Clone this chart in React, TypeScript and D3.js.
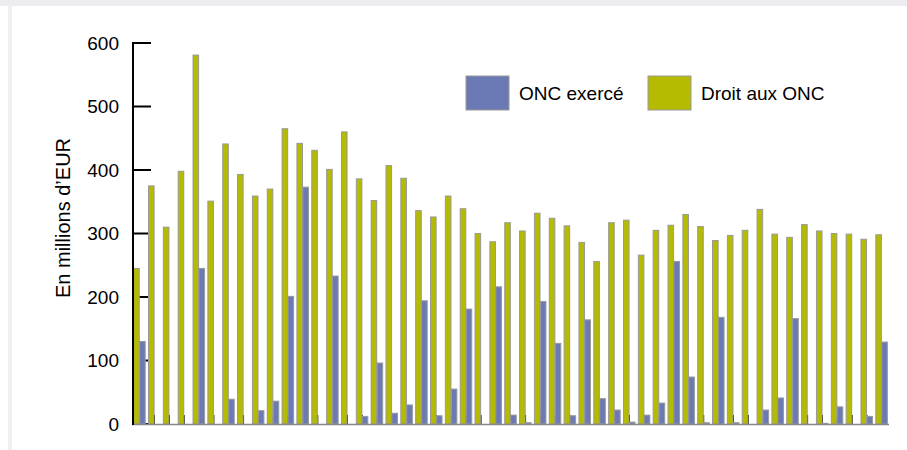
import React from "react";
import * as d3 from "d3";

const categories: string[] = Array.from({ length: 51 }, (_, i) => String(i + 1));
const droitValues: number[] = [245,375,310,398,581,351,441,393,359,370,465,442,431,401,460,386,352,407,387,336,326,359,339,300,287,317,304,332,324,312,286,256,317,321,266,305,313,330,311,289,297,305,338,299,294,314,304,300,299,291,298];
const exerceValues: number[] = [130,0,0,0,245,0,39,0,21,36,201,373,0,233,0,12,96,17,30,194,13,55,181,0,216,14,2,193,127,13,164,40,22,3,14,33,256,74,2,168,2,0,22,41,166,0,1,27,0,12,129];
const yTicks: number[] = [0, 100, 200, 300, 400, 500, 600];
const seriesNames: string[] = ["ONC exercé", "Droit aux ONC"];
const yTitle = "En millions d’EUR";

const W = 907, H = 450;
const GREEN = "#b4bb00";
const BLUE = "#6b7ab4";
const FONT = "Liberation Sans, Arial, sans-serif";

export default function App() {
  const x0 = d3.scaleBand<string>().domain(categories).range([132, 889]).padding(0);
  const bw = x0.bandwidth();
  const x1 = d3.scaleBand<string>().domain(["droit", "exerce"]).range([1.3, bw - 1.3]).padding(0.06);
  const y = d3.scaleLinear().domain([0, 600]).range([424, 43]);

  return (
    <svg width={W} height={H} style={{ position: "absolute", left: 0, top: 0, background: "#fff" }} fontFamily={FONT}>
      <rect x={0} y={0} width={W} height={6} fill="#ececf1" />
      <rect x={8} y={6} width={4} height={H - 6} fill="#efeff4" />
      {/* y ticks (behind bars) */}
      {yTicks.map((t) => (
        <line key={"yt" + t} x1={132} x2={151} y1={y(t)} y2={y(t)} stroke="#000" strokeWidth={2} />
      ))}
      {/* x ticks */}
      {categories.map((c) => (
        <line key={"xt" + c} x1={(x0(c) as number) + bw / 2} x2={(x0(c) as number) + bw / 2} y1={415} y2={425} stroke="#000" strokeWidth={1.5} />
      ))}
      {/* bars */}
      {categories.map((c, i) => {
        const gx = (x0(c) as number) + (x1("droit") as number);
        const bx = (x0(c) as number) + (x1("exerce") as number);
        return (
          <g key={"g" + c}>
            <rect x={gx} y={y(droitValues[i])} width={x1.bandwidth()} height={y(0) - y(droitValues[i])} fill={GREEN} stroke="#999" strokeWidth={1} />
            {exerceValues[i] > 0 && (
              <rect x={bx} y={y(exerceValues[i])} width={x1.bandwidth()} height={y(0) - y(exerceValues[i])} fill={BLUE} stroke="#999" strokeWidth={1} />
            )}
          </g>
        );
      })}
      {/* x axis */}
      <line x1={132} x2={889} y1={424.5} y2={424.5} stroke="#888" strokeWidth={1.5} />
      {/* y axis */}
      <line x1={133} x2={133} y1={42} y2={425} stroke="#000" strokeWidth={2} />
      {yTicks.map((t) => (
        <text key={"yl" + t} x={119} y={y(t)} dy="0.36em" textAnchor="end" fontSize={19} fill="#000">{t}</text>
      ))}
      <text transform={`translate(70, 218) rotate(-90)`} textAnchor="middle" fontSize={20} fill="#000">{yTitle}</text>
      {/* legend */}
      <rect x={466} y={76} width={43} height={34} fill={BLUE} stroke="#999" strokeWidth={1} />
      <text x={519} y={93} dy="0.36em" fontSize={19} fill="#000">{seriesNames[0]}</text>
      <rect x={648} y={76} width={43} height={34} fill={GREEN} stroke="#999" strokeWidth={1} />
      <text x={701} y={93} dy="0.36em" fontSize={19} fill="#000">{seriesNames[1]}</text>
    </svg>
  );
}
